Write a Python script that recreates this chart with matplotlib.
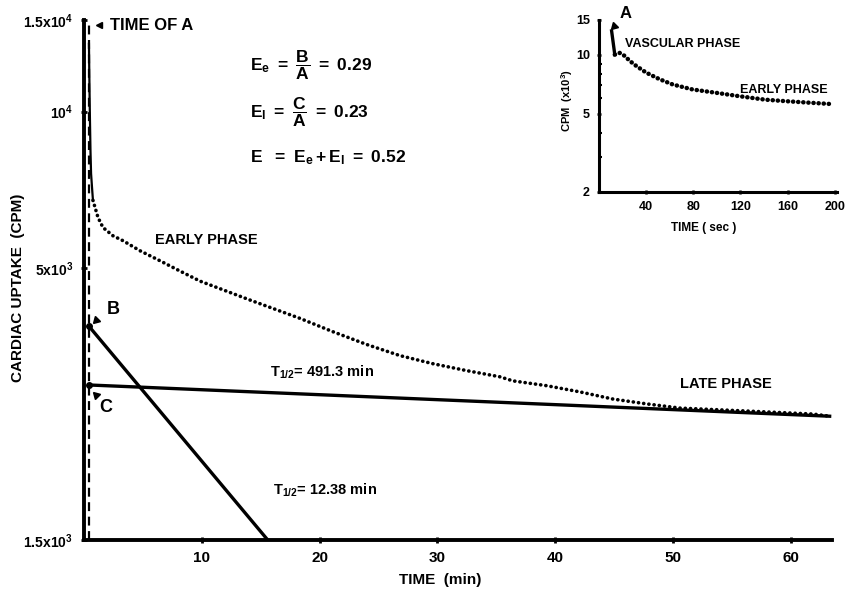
import numpy as np
import matplotlib
matplotlib.use("Agg")
import matplotlib.pyplot as plt
from matplotlib.ticker import FixedLocator, NullFormatter, NullLocator

# ---- data ----
# main curve: time (min) vs cardiac uptake (cpm)
t_curve = [0.42, 0.45, 0.48, 0.50, 0.55, 0.60, 0.68, 0.76, 1.19, 1.61, 2.46, 3.31,
           4.75, 6.45, 8.15, 9.85, 14.1, 18.3, 21.1, 24.0, 26.8, 29.6, 32.5, 35.3,
           36.4, 39.3, 42.1, 44.9, 47.8, 50.6, 56.3, 61.9, 63.3]
cpm_curve = [13500, 11800, 10500, 9800, 8400, 7600, 7150, 6750, 6255, 5985, 5770, 5645,
             5400, 5165, 4935, 4720, 4340, 4005, 3775, 3565, 3395, 3275, 3175, 3090,
             3035, 2970, 2890, 2800, 2740, 2690, 2655, 2620, 2595]
n_spike = 8  # first points drawn as the vascular spike

# fitted exponentials
t_early = [0.42, 15.6]
cpm_early = [3865, 1500]
t_late = [0.42, 63.3]
cpm_late = [2980, 2595]
t_A = 0.42

# inset: first 200 sec
t_sec = [10.7, 13.4, 17.6, 21.8, 26.0, 31.7, 40.0, 51.3, 62.5, 79.3, 98.9, 118.5,
         140.9, 157.7, 177.3, 198.3]
cpm_k = [13.2, 10.0, 10.2, 9.85, 9.3, 8.75, 8.1, 7.5, 7.05, 6.65, 6.4, 6.15,
         5.9, 5.8, 5.7, 5.6]

y_ticks = [1500, 5000, 10000, 15000]
y_labels = ["1.5x10$^3$", "5x10$^3$", "10$^4$", "1.5x10$^4$"]
x_ticks = [10, 20, 30, 40, 50, 60]
in_yticks = [2, 5, 10, 15]
in_xticks = [40, 80, 120, 160, 200]

plt.rcParams["font.family"] = ["Liberation Sans", "DejaVu Sans"]
plt.rcParams["font.weight"] = "bold"
plt.rcParams["mathtext.fontset"] = "custom"
plt.rcParams["mathtext.rm"] = "Liberation Sans:bold"
plt.rcParams["mathtext.it"] = "Liberation Sans:bold"
plt.rcParams["mathtext.bf"] = "Liberation Sans:bold"
plt.rcParams["mathtext.default"] = "rm"

W, H = 846, 591
fig = plt.figure(figsize=(W / 100, H / 100), dpi=100)


def px(x, y):
    # pixel position -> figure fraction
    return x / W, 1 - y / H


dot = (0, (0.05, 1.4))

# ---- main axes ----
ax = fig.add_axes([84 / W, 1 - 540 / H, 748 / W, 520 / H])
ax.set_yscale("log")
ax.plot(t_curve[:n_spike], cpm_curve[:n_spike], color="black", lw=1.6)
ax.plot(t_curve[n_spike - 1:], cpm_curve[n_spike - 1:], color="black", lw=2.6,
        linestyle=dot, dash_capstyle="round")
ax.plot(t_early, cpm_early, color="black", lw=2.4)
ax.plot(t_late, cpm_late, color="black", lw=2.4)
ax.plot([t_early[0], t_late[0]], [cpm_early[0], cpm_late[0]], "o", color="black", ms=4)
ax.axvline(t_A, color="black", lw=1.6, linestyle=(0, (4, 2.5)))

ax.set_xlim(0, 63.5)
ax.set_ylim(1500, 15000)
ax.yaxis.set_major_locator(FixedLocator(y_ticks))
ax.set_yticklabels(y_labels, fontsize=10)
ax.yaxis.set_minor_locator(NullLocator())
ax.yaxis.set_minor_formatter(NullFormatter())
ax.set_xticks(x_ticks)
ax.set_xticklabels([str(v) for v in x_ticks], fontsize=11)
ax.tick_params(width=2, length=4, direction="inout", pad=6)
for s in ["top", "right"]:
    ax.spines[s].set_visible(False)
for s in ["left", "bottom"]:
    ax.spines[s].set_linewidth(2.8)

fig.text(*px(440, 580), "TIME  (min)", fontsize=11, ha="center", va="center")
fig.text(*px(18, 288), "CARDIAC UPTAKE  (CPM)", fontsize=11, ha="center",
         va="center", rotation=90)

# annotations
fig.text(*px(110, 25), "TIME OF A", fontsize=12, va="center")
ax.plot(*px(99, 25), marker="<", ms=5, color="black", transform=fig.transFigure, clip_on=False)

fig.text(*px(250, 65), r"$E_e\ =\ \dfrac{B}{A}\ =\ 0.29$", fontsize=12.5, va="center")
fig.text(*px(250, 112), r"$E_l\ =\ \dfrac{C}{A}\ =\ 0.23$", fontsize=12.5, va="center")
fig.text(*px(250, 158), r"$E\ \ =\ E_e+E_l\ =\ 0.52$", fontsize=12.5, va="center")

fig.text(*px(155, 240), "EARLY PHASE", fontsize=10.5, va="center")
fig.text(*px(680, 384), "LATE PHASE", fontsize=10.5, va="center")
fig.text(*px(270, 372), r"$T_{1/2}$= 491.3 min", fontsize=10.5, va="center")
fig.text(*px(273, 490), r"$T_{1/2}$= 12.38 min", fontsize=10.5, va="center")

fig.text(*px(113, 310), "B", fontsize=13, ha="center", va="center")
ax.plot(*px(96, 320), marker=(3, 0, 135), ms=6, color="black",
        transform=fig.transFigure, clip_on=False)
fig.text(*px(106, 408), "C", fontsize=13, ha="center", va="center")
ax.plot(*px(96, 395), marker=(3, 0, 45), ms=6, color="black",
        transform=fig.transFigure, clip_on=False)

# ---- inset ----
ins = fig.add_axes([599 / W, 1 - 192 / H, 238 / W, 172 / H])
ins.set_yscale("log")
ins.plot(t_sec[:2], cpm_k[:2], color="black", lw=2.4)
ins.plot(t_sec[1:], cpm_k[1:], color="black", lw=3.2, linestyle=(0, (0.05, 1.1)),
         dash_capstyle="round")
ins.set_xlim(0, 202)
ins.set_ylim(2, 15)
ins.yaxis.set_major_locator(FixedLocator(in_yticks))
ins.set_yticklabels([str(v) for v in in_yticks], fontsize=9)
ins.yaxis.set_minor_formatter(NullFormatter())
ins.set_xticks(in_xticks)
ins.set_xticklabels([str(v) for v in in_xticks], fontsize=9)
ins.tick_params(width=1.8, length=3, direction="inout", pad=5)
ins.tick_params(which="minor", width=1.5, length=2, direction="in")
for s in ["top", "right"]:
    ins.spines[s].set_visible(False)
for s in ["left", "bottom"]:
    ins.spines[s].set_linewidth(2.2)

fig.text(*px(704, 228), "TIME ( sec )", fontsize=8.5, ha="center", va="center")
fig.text(*px(567, 100), "CPM  (x10$^3$)", fontsize=8, ha="center", va="center", rotation=90)
fig.text(*px(625, 44), "VASCULAR PHASE", fontsize=9, va="center")
fig.text(*px(740, 90), "EARLY PHASE", fontsize=9, va="center")
fig.text(*px(626, 13), "A", fontsize=12, ha="center", va="center")
ins.plot(*px(614, 26), marker=(3, 0, 135), ms=6, color="black",
         transform=fig.transFigure, clip_on=False)

fig.savefig("out.png", dpi=100)
